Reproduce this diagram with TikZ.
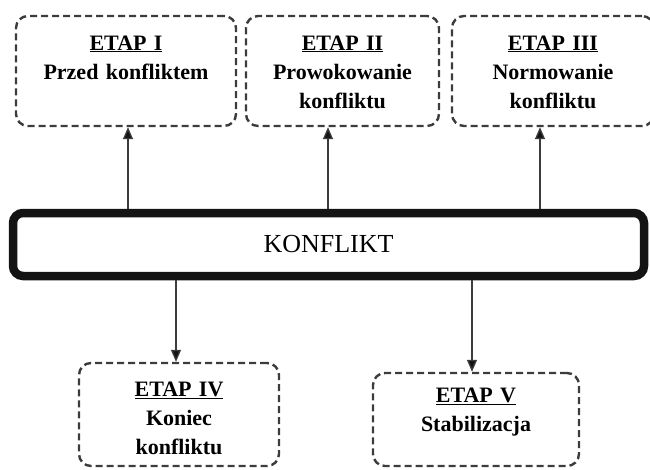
\documentclass[tikz,border=0pt]{standalone}
\usepackage{fontspec}
\setmainfont{Liberation Serif}
\usepackage{xcolor}
\definecolor{Col1}{RGB}{60,60,60}
\definecolor{Col2}{RGB}{20,20,20}
\usepackage{tikz}
\usetikzlibrary{arrows.meta}
\tikzstyle{Etap}=[draw=Col1,line width=2.4pt,dash pattern=on 7pt off 4pt,
rounded corners=12pt,inner sep=0pt,align=center,
font=\fontsize{22}{29}\selectfont\bfseries]
\tikzstyle{Konflikt}=[draw=Col2,line width=8.5pt,rounded corners=10pt,
minimum width=631pt,minimum height=63pt,inner sep=0pt,
font=\fontsize{26}{30}\selectfont]
\tikzstyle{Arrow}=[draw=Col1,line width=1.3pt,
-{Triangle[length=12pt,width=10pt,fill=Col2]}]

\begin{document}
\begin{tikzpicture}[x=1pt,y=-1pt]
        \useasboundingbox(0,0)rectangle(650,469);
        \clip(0,0)rectangle(650,469);
        \node[Konflikt](k)at(328.5,244.5){KONFLIKT};
        \node[Etap,text width=220pt,text height=34pt,text depth=76pt](e1)
            at(126,71){\underline{ETAP I}\\Przed konfliktem};
        \node[Etap,text width=193pt,text height=34pt,text depth=76pt](e2)
            at(342.5,71){\underline{ETAP II}\\Prowokowanie\\konfliktu};
        \node[Etap,text width=202pt,text height=34pt,text depth=76pt](e3)
            at(553,71){\underline{ETAP III}\\Normowanie\\konfliktu};
        \node[Etap,text width=200pt,text height=33pt,text depth=70pt](e4)
            at(179,414.5){\underline{ETAP IV}\\Koniec\\konfliktu};
        \node[Etap,text width=206pt,text height=29pt,text depth=64pt](e5)
            at(476,419.5){\underline{ETAP V}\\Stabilizacja};
        \draw[Arrow]([xshift=2pt]e1.south|-k.north)--([xshift=2pt]e1.south);
        \draw[Arrow]([xshift=-14.5pt]e2.south|-k.north)--([xshift=-14.5pt]e2.south);
        \draw[Arrow]([xshift=-13pt]e3.south|-k.north)--([xshift=-13pt]e3.south);
        \draw[Arrow]([xshift=-3pt]e4.north|-k.south)--([xshift=-3pt]e4.north);
        \draw[Arrow]([xshift=-4pt]e5.north|-k.south)--([xshift=-4pt]e5.north);
\end{tikzpicture}
\end{document}
